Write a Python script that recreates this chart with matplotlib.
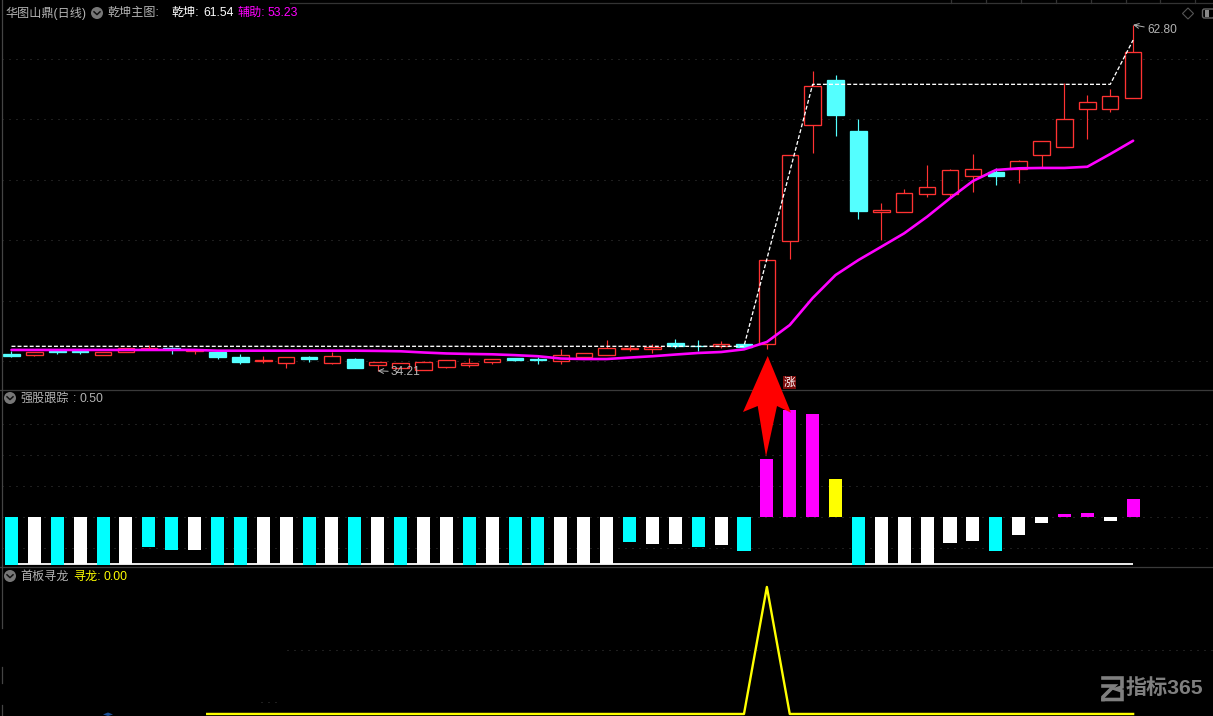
import numpy as np
import matplotlib
matplotlib.use('Agg')
import matplotlib.pyplot as plt
from matplotlib.patches import Polygon, Circle, Rectangle, FancyBboxPatch

plt.rcParams['font.family'] = ['Liberation Sans', 'Noto Sans CJK SC', 'DejaVu Sans']

########## DATA ##########
# kline, 50 days (o = open, h = high, l = low, c = close)
opens = [35.60, 35.54, 35.84, 35.84, 35.54, 35.80, 35.98, 36.09, 35.84, 35.76,
         35.35, 35.02, 34.83, 35.32, 34.88, 35.18, 34.66, 34.46, 34.30, 34.54,
         34.71, 34.96, 35.26, 35.18, 35.04, 35.37, 35.54, 36.03, 36.03, 36.50,
         36.25, 36.28, 36.42, 36.44, 44.96, 54.49, 58.24, 54.02, 47.35, 47.35,
         48.84, 48.84, 50.33, 50.64, 50.86, 52.02, 52.73, 55.87, 55.87, 56.78]
highs = [35.84, 35.80, 35.87, 35.93, 35.72, 36.13, 36.34, 36.20, 35.93, 35.76,
         35.60, 35.43, 35.32, 35.43, 35.76, 35.26, 34.91, 34.85, 34.99, 35.07,
         35.26, 35.16, 35.26, 35.37, 36.01, 35.65, 36.75, 36.31, 36.40, 36.83,
         36.75, 36.67, 36.53, 43.34, 52.02, 58.98, 58.65, 55.02, 48.05, 49.23,
         51.21, 50.88, 52.12, 50.97, 51.63, 53.17, 57.97, 57.00, 57.49, 62.80]
lows = [35.35, 35.46, 35.62, 35.62, 35.54, 35.80, 35.98, 35.62, 35.60, 35.21,
        34.79, 34.85, 34.46, 34.96, 34.79, 34.46, 34.21, 34.46, 34.30, 34.46,
        34.54, 34.79, 35.04, 34.79, 34.79, 35.26, 35.54, 35.84, 35.70, 36.11,
        35.82, 36.06, 36.15, 36.03, 43.44, 52.23, 53.61, 46.75, 45.02, 47.35,
        48.57, 48.49, 49.01, 49.56, 49.75, 50.99, 52.73, 53.36, 55.62, 56.78]
closes = [35.43, 35.80, 35.76, 35.76, 35.72, 36.13, 36.09, 36.01, 35.93, 35.37,
          34.96, 35.10, 35.32, 35.21, 35.40, 34.46, 34.91, 34.85, 34.91, 35.07,
          34.85, 35.16, 35.10, 35.12, 35.49, 35.65, 36.09, 36.09, 36.15, 36.28,
          36.23, 36.42, 36.20, 43.34, 52.02, 57.72, 55.35, 47.41, 47.49, 48.87,
          49.37, 50.78, 50.86, 50.30, 51.52, 53.17, 54.99, 56.40, 56.89, 60.53]
# cyan candle = down day in this chart
is_down = [1, 0, 1, 1, 0, 0, 0, 1, 0, 1, 1, 0, 0, 1, 0, 1, 0, 0, 0, 0, 0, 0, 1, 1, 0,
           0, 0, 0, 0, 1, 1, 0, 1, 0, 0, 0, 1, 1, 0, 0, 0, 0, 0, 1, 0, 0, 0, 0, 0, 0]

# 辅助 line
fuzhu = [35.93, 35.93, 35.93, 35.93, 35.93, 35.93, 35.93, 35.93, 35.93, 35.87,
         35.87, 35.87, 35.87, 35.87, 35.87, 35.87, 35.85, 35.82, 35.72, 35.64,
         35.60, 35.57, 35.50, 35.41, 35.22, 35.18, 35.18, 35.30, 35.41, 35.55,
         35.68, 35.76, 35.98, 36.59, 37.99, 40.22, 42.12, 43.36, 44.46, 45.57,
         46.94, 48.46, 49.89, 50.80, 50.94, 50.97, 50.97, 51.07, 52.12, 53.22]
# 乾坤 zigzag line
zig_days = [0, 32, 35, 48, 49]
zig_vals = [36.23, 36.23, 57.88, 57.88, 61.54]

# 强股跟踪 bars
qiang = [-1.33, -1.31, -1.33, -1.31, -1.33, -1.31, -0.83, -0.92, -0.92, -1.33,
         -1.33, -1.31, -1.31, -1.33, -1.31, -1.33, -1.31, -1.33, -1.31, -1.31,
         -1.33, -1.31, -1.33, -1.33, -1.31, -1.31, -1.31, -0.69, -0.75, -0.75,
         -0.83, -0.78, -0.94, 1.61, 2.97, 2.86, 1.06, -1.33, -1.31, -1.31,
         -1.31, -0.72, -0.67, -0.94, -0.50, -0.17, 0.08, 0.11, -0.11, 0.50]
qiang_kind = list('cwcwcwccwccwwcwcwcwwcwccwwwcwwcwcmmmycwwwwwcwwmmwm')
qiang_base = -1.31

# 寻龙 line, it only starts halfway between two days
xunlong_days = [8.55, 32, 33, 34, 49]
xunlong_vals = [0, 0, 1, 0, 0]

price_ticks = [35, 40, 45, 50, 55, 60]
qiang_ticks = [-0.86, 0, 0.86, 1.72, 2.58]

########## FIGURE ##########
W, H = 1213, 716
fig = plt.figure(figsize=(W / 100, H / 100), dpi=100, facecolor='black')


def panel(top, bottom, ylim):
    ax = fig.add_axes([0, 1 - bottom / H, 1, (bottom - top) / H], facecolor='black')
    ax.set_xlim(-0.502, 52.49)
    ax.set_ylim(*ylim)
    ax.axis('off')
    return ax


ax1 = panel(0, 390, (32.62, 64.85))
ax2 = panel(390, 567, (-1.389, 3.528))
ax3 = panel(567, 716, (-0.016, 1.157))

GRID = '#3c3c3c'
grid_style = dict(colors=GRID, linewidth=0.72, linestyles=[(0, (1, 6))], zorder=1)
ax1.hlines(price_ticks, -0.4, 52.49, **grid_style)
ax2.hlines(qiang_ticks, -0.4, 52.49, **grid_style)
ax3.hlines([0.5], 12.04, 52.49, **grid_style)
ax3.hlines([0.094], 10.9, 11.8, **grid_style)

########## MAIN PANEL ##########
RED = '#ff3232'
CYAN = '#54ffff'
days = np.arange(len(opens))
for i in days:
    col = CYAN if is_down[i] else RED
    ax1.vlines(i, lows[i], highs[i], color=col, linewidth=0.85, zorder=2)
    bottom = min(opens[i], closes[i])
    height = abs(opens[i] - closes[i])
    ax1.bar(i, height, bottom=bottom, width=0.72, zorder=3,
            facecolor=CYAN if is_down[i] else 'black', edgecolor=col, linewidth=0.95)

ax1.plot(zig_days, zig_vals, color='white', linewidth=0.95, dashes=(3, 1.6), zorder=4)
ax1.plot(days, fuzhu, color='#ff00ff', linewidth=1.9, zorder=5, solid_capstyle='round')

LABEL = '#b4b4b4'
ax1.annotate('34.21', xy=(16, 34.21), xytext=(9.5, -1), textcoords='offset points',
             va='center', color=LABEL, fontsize=8.6,
             arrowprops=dict(arrowstyle='->', color=LABEL, lw=0.7, shrinkA=0, shrinkB=0))
ax1.annotate('62.80', xy=(49, 62.80), xytext=(10, -4), textcoords='offset points',
             va='center', color=LABEL, fontsize=8.6,
             arrowprops=dict(arrowstyle='->', color=LABEL, lw=0.7, shrinkA=0, shrinkB=0))

########## 强股跟踪 ##########
kind_colors = {'c': '#00ffff', 'w': '#ffffff', 'm': '#ff00ff', 'y': '#ffff00'}
ax2.hlines(qiang_base, 0, 49, color='white', linewidth=1.3, zorder=2)
ax2.bar(days, qiang, width=0.57, color=[kind_colors[k] for k in qiang_kind],
        linewidth=0, zorder=3)

########## 首板寻龙 ##########
ax3.plot(xunlong_days, xunlong_vals, color='#ffff00', linewidth=1.7, zorder=3)

########## OVERLAY (separators, headers, icons, arrow) ##########
top = fig.add_axes([0, 0, 1, 1], facecolor='none')
top.set_xlim(0, W)
top.set_ylim(H, 0)
top.axis('off')

LINE = '#3a3a3a'
top.plot([0, W], [390.3, 390.3], color=LINE, linewidth=0.9)
top.plot([0, W], [567.3, 567.3], color=LINE, linewidth=0.9)
top.plot([290, W], [3.2, 3.2], color='#333333', linewidth=0.9)
for tx in np.arange(951, W, 34.9):
    top.plot([tx, tx], [0, 3], color='#333333', linewidth=0.9)
for y0, y1 in [(0, 628), (667, 683), (705, 716)]:
    top.plot([1.6, 1.6], [y0, y1], color='#444444', linewidth=0.9)


def icon(x, y):
    top.add_patch(Circle((x, y), 6, facecolor='#777777', edgecolor='none'))
    top.plot([x - 3, x, x + 3], [y - 1.2, y + 1.6, y - 1.2], color='#111111', linewidth=1.1)


def label(x, y, s, col=LABEL, size=8.7):
    top.text(x, y, s, color=col, fontsize=size, va='center', ha='left')


icon(97, 13)
icon(10, 398)
icon(10, 576)
label(5, 13, '华图山鼎(日线)')
label(107, 13, '乾坤主图:')
label(172, 13, '乾坤:', 'white')
label(203, 13, '61.54', 'white')
label(238, 13, '辅助:', '#ff00ff')
label(268, 13, '53.23', '#ff00ff')
label(20, 398.5, '强股跟踪')
label(73, 398.5, ':')
label(80, 398.5, '0.50')
label(20, 576.5, '首板寻龙')
label(73, 576.5, '寻龙:', '#ffff00')
label(104, 576.5, '0.00', '#ffff00')

# icons top right
top.add_patch(Polygon([(1188, 8), (1193.5, 13.5), (1188, 19), (1182.5, 13.5)],
                      fill=False, edgecolor='#555555', linewidth=0.8))
top.add_patch(FancyBboxPatch((1202.5, 9), 12, 9, boxstyle='round,pad=0,rounding_size=2',
                             fill=False, edgecolor='#666666', linewidth=1))
top.add_patch(Rectangle((1205, 10), 4, 7, facecolor='#888888', edgecolor='none'))

# big red arrow and the 涨 tag
top.add_patch(Polygon([(767.7, 356), (791, 412.7), (777, 406), (766, 456.7),
                       (757.7, 406), (743, 412)], facecolor='#ff0000', edgecolor='none', zorder=6))
top.add_patch(Rectangle((783, 376), 13, 13, facecolor='#7a0a0a', edgecolor='none', zorder=6))
top.text(789.5, 382.5, '涨', color='white', fontsize=8.5, ha='center', va='center', zorder=7)

# little blue smudge in the bottom panel
top.add_patch(Polygon([(103, 714.5), (108, 712.5), (113, 714.5), (108, 716)],
                      facecolor='#1c4f96', edgecolor='none'))

# watermark
WM = '#7f7f7f'
top.plot([1103, 1122, 1122, 1116, 1122, 1122, 1103],
         [678, 678, 687, 689, 691, 699.5, 699.5], color=WM, linewidth=2.6, solid_joinstyle='miter')
top.plot([1103, 1114, 1103, 1103], [686, 686, 697, 699.5], color=WM, linewidth=2.6,
         solid_joinstyle='miter')
top.text(1126, 688.5, '指标365', color=WM, fontsize=15.2, fontweight='bold', va='center', ha='left')

fig.savefig('out.png', dpi=100, facecolor='black')
